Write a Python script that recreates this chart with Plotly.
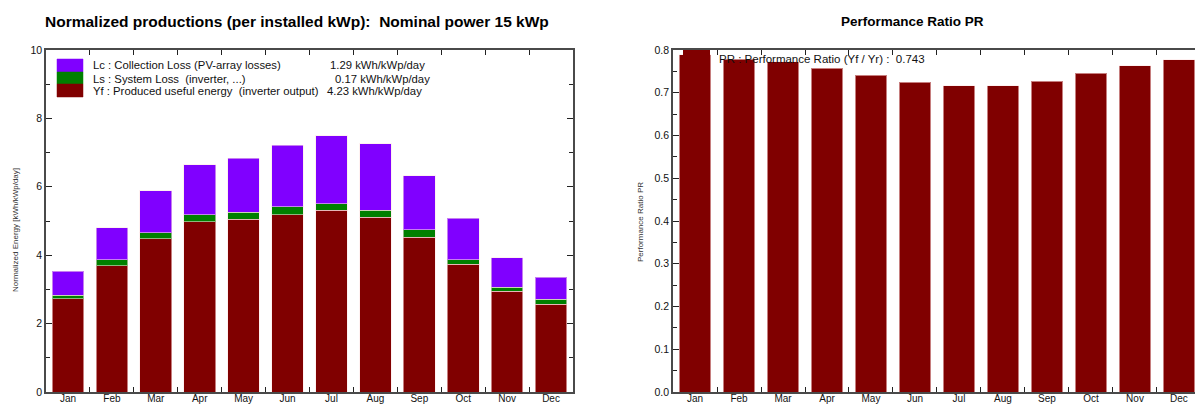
import plotly.graph_objects as go

months = ["Jan", "Feb", "Mar", "Apr", "May", "Jun", "Jul", "Aug", "Sep", "Oct", "Nov", "Dec"]
yf = [2.73, 3.69, 4.48, 4.98, 5.05, 5.18, 5.32, 5.11, 4.52, 3.73, 2.94, 2.56]
ls = [0.10, 0.18, 0.18, 0.20, 0.20, 0.24, 0.19, 0.21, 0.22, 0.14, 0.13, 0.15]
lc = [0.70, 0.93, 1.22, 1.46, 1.59, 1.80, 1.99, 1.94, 1.59, 1.21, 0.85, 0.65]
pr = [0.789, 0.778, 0.773, 0.757, 0.741, 0.724, 0.716, 0.716, 0.727, 0.746, 0.763, 0.777]

legend_labels = ["Lc : Collection Loss (PV-array losses)",
                 "Ls : System Loss  (inverter, ...)",
                 "Yf : Produced useful energy  (inverter output)"]
legend_values = ["1.29 kWh/kWp/day", "0.17 kWh/kWp/day", "4.23 kWh/kWp/day"]
pr_label = "PR : Performance Ratio (Yf / Yr) :  0.743"

C_LC = "#8000FF"
C_LS = "#008000"
C_YF = "#800000"

W, H = 1195, 404
MT, MB = 50, 12
PH = H - MT - MB


def px(x):
    return x / W


def py(y):
    return (H - MB - y) / PH


FONT = "Liberation Sans, Arial, sans-serif"
edge = dict(color="rgba(255,230,230,0.55)", width=1)

fig = go.Figure()
fig.add_trace(go.Bar(x=months, y=yf, marker=dict(color=C_YF, line=edge), width=0.72,
                     xaxis="x", yaxis="y", showlegend=False))
fig.add_trace(go.Bar(x=months, y=ls, marker=dict(color=C_LS, line=edge), width=0.72,
                     xaxis="x", yaxis="y", showlegend=False))
fig.add_trace(go.Bar(x=months, y=lc, marker=dict(color=C_LC, line=edge), width=0.72,
                     xaxis="x", yaxis="y", showlegend=False))
fig.add_trace(go.Bar(x=months, y=pr, marker=dict(color=C_YF, line=edge), width=0.71,
                     xaxis="x2", yaxis="y2", showlegend=False))

axcol = "#4a4a4a"
tickfont = dict(family=FONT, size=10.5, color="#111")

common_x = dict(type="category", tickson="boundaries", ticks="inside", ticklen=5,
                tickcolor="#222", showline=True, linecolor=axcol, linewidth=1.5,
                showgrid=False, tickfont=dict(family=FONT, size=10, color="#111"),
                ticklabelstandoff=-4,
                fixedrange=True, automargin=False)

fig.update_layout(
    width=W, height=H,
    margin=dict(l=0, r=0, t=MT, b=MB),
    paper_bgcolor="white", plot_bgcolor="white",
    barmode="stack",
    font=dict(family=FONT, color="#111"),
    xaxis=dict(domain=[px(46), px(573)], anchor="y", mirror="ticks",
               range=[-0.5, 11.5], **common_x),
    yaxis=dict(domain=[0, 1], anchor="x", range=[0, 10], dtick=2, ticks="inside",
               ticklen=6, tickcolor="#222", showline=True, linecolor=axcol, linewidth=1.5,
               mirror="ticks", showgrid=False, zeroline=False, tickfont=tickfont,
               automargin=False,
               minor=dict(dtick=1, ticks="inside", ticklen=4, tickcolor="#222", showgrid=False)),
    xaxis2=dict(domain=[px(673), 1.0], anchor="y2", mirror="ticks",
                range=[-0.5, 11.364], **common_x),
    yaxis2=dict(domain=[0, 1], anchor="x2", range=[0, 0.8], dtick=0.1, tickformat=".1f",
                ticks="inside", ticklen=6, tickcolor="#222", showline=True, linecolor=axcol,
                linewidth=1.5, mirror=False, showgrid=False, zeroline=False, tickfont=tickfont,
                automargin=False,
                minor=dict(dtick=0.05, ticks="inside", ticklen=4, tickcolor="#222", showgrid=False)),
)

annotations = []
shapes = []

# titles
annotations.append(dict(text="<b>Normalized productions (per installed kWp):  Nominal power 15 kWp</b>",
                        x=px(297), y=py(22), xref="paper", yref="paper", showarrow=False,
                        xanchor="center", yanchor="middle",
                        font=dict(family=FONT, size=15.5, color="#000")))
annotations.append(dict(text="<b>Performance Ratio PR</b>",
                        x=px(912), y=py(22), xref="paper", yref="paper", showarrow=False,
                        xanchor="center", yanchor="middle",
                        font=dict(family=FONT, size=13.5, color="#000")))

# axis titles
annotations.append(dict(text="Normalized Energy [kWh/kWp/day]", textangle=-90,
                        x=px(15), y=py(230), xref="paper", yref="paper", showarrow=False,
                        xanchor="center", yanchor="middle",
                        font=dict(family=FONT, size=8, color="#333")))
annotations.append(dict(text="Performance Ratio PR", textangle=-90,
                        x=px(640), y=py(222), xref="paper", yref="paper", showarrow=False,
                        xanchor="center", yanchor="middle",
                        font=dict(family=FONT, size=8, color="#333")))

# left legend
box_y = [(59, 72), (72, 84), (84, 97)]
box_c = [C_LC, C_LS, C_YF]
text_y = [65, 78.5, 91]
val_x = [328, 333, 325]
for (y0, y1), c, ty, lab, val, vx in zip(box_y, box_c, text_y, legend_labels, legend_values, val_x):
    shapes.append(dict(type="rect", xref="paper", yref="paper",
                       x0=px(57), x1=px(83), y0=py(y1), y1=py(y0),
                       fillcolor=c, line=dict(color=c, width=0.5)))
    annotations.append(dict(text=lab, x=px(91), y=py(ty), xref="paper", yref="paper",
                            showarrow=False, xanchor="left", yanchor="middle",
                            font=dict(family=FONT, size=11.3, color="#111")))
    annotations.append(dict(text=val, x=px(vx), y=py(ty), xref="paper", yref="paper",
                            showarrow=False, xanchor="left", yanchor="middle",
                            font=dict(family=FONT, size=11.3, color="#111")))

# right legend
shapes.append(dict(type="rect", xref="paper", yref="paper",
                   x0=px(683), x1=px(710), y0=py(58), y1=py(50),
                   fillcolor=C_YF, line=dict(color=C_YF, width=0)))
annotations.append(dict(text=pr_label, x=px(717), y=py(59), xref="paper", yref="paper",
                        showarrow=False, xanchor="left", yanchor="middle",
                        font=dict(family=FONT, size=11.5, color="#111")))

fig.update_layout(annotations=annotations, shapes=shapes)

fig.write_html("out.html",
               config={"displayModeBar": False},
               post_script="document.body.style.margin='0';document.body.style.overflow='hidden';")
